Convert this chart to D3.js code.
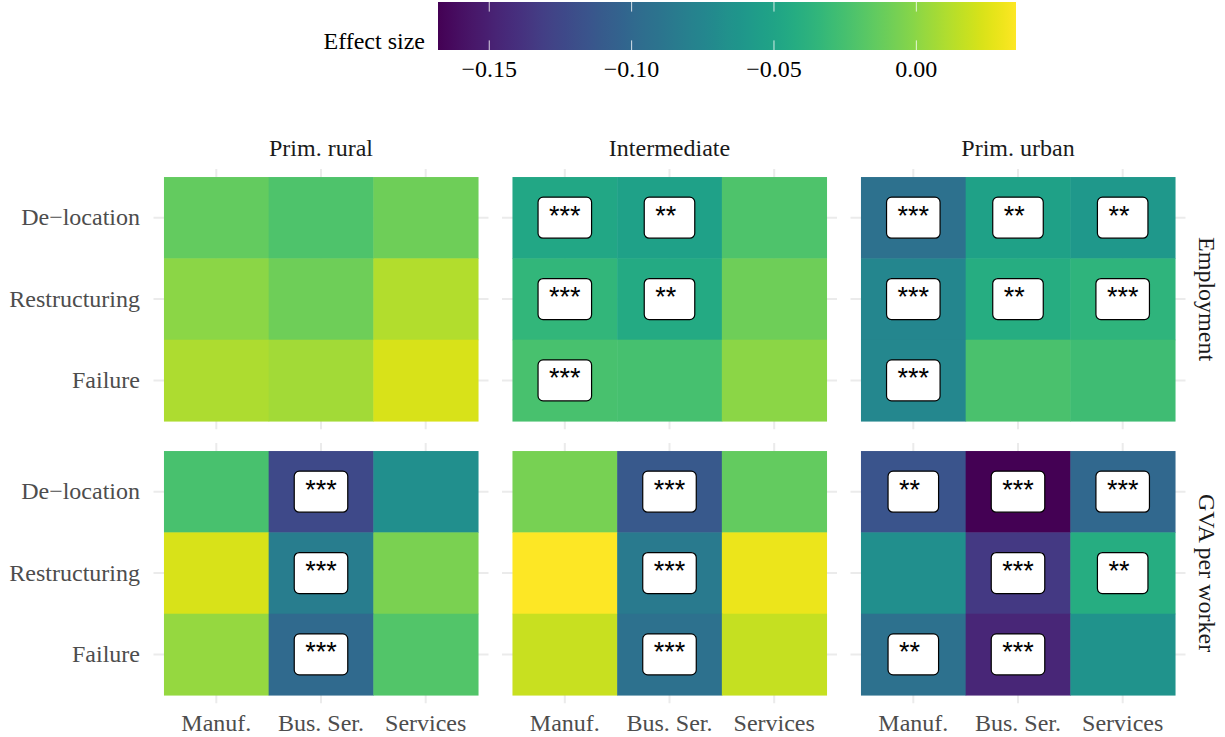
<!DOCTYPE html>
<html>
<head>
<meta charset="utf-8">
<script src="https://cdn.jsdelivr.net/npm/d3@7"></script>
<style>
  body { margin: 0; background: #fff; }
  svg { display: block; }
</style>
</head>
<body>
<script>
// Facets and categories
const areas = ["Prim. rural", "Intermediate", "Prim. urban"];
const outcomes = ["Employment", "GVA per worker"];
const sectors = ["Manuf.", "Bus. Ser.", "Services"];
const events = ["De\u2212location", "Restructuring", "Failure"];
const colourTicks = [-0.15, -0.10, -0.05, 0.00];

// Effect sizes, row-major: event (De-location, Restructuring, Failure) x sector
const empRural        = [-0.014, -0.022, -0.010,   0.000, -0.010,  0.012,   0.010,  0.007,  0.023];
const empIntermediate = [-0.047, -0.053, -0.022,  -0.034, -0.045, -0.010,  -0.024, -0.025,  0.000];
const empUrban        = [-0.093, -0.052, -0.060,  -0.075, -0.042, -0.036,  -0.074, -0.023, -0.028];
const gvaRural        = [-0.024, -0.123, -0.068,   0.023, -0.083, -0.006,   0.003, -0.099, -0.020];
const gvaIntermediate = [-0.007, -0.112, -0.014,   0.035, -0.085,  0.029,   0.018, -0.093,  0.017];
const gvaUrban        = [-0.115, -0.168, -0.100,  -0.068, -0.134, -0.042,  -0.093, -0.146, -0.064];

// Significance markers, same layout
const sigEmpRural        = ["", "", "",  "", "", "",  "", "", ""];
const sigEmpIntermediate = ["***", "**", "",  "***", "**", "",  "***", "", ""];
const sigEmpUrban        = ["***", "**", "**",  "***", "**", "***",  "***", "", ""];
const sigGvaRural        = ["", "***", "",  "", "***", "",  "", "***", ""];
const sigGvaIntermediate = ["", "***", "",  "", "***", "",  "", "***", ""];
const sigGvaUrban        = ["**", "***", "***",  "", "***", "**",  "**", "***", ""];

const panelValues = [
  [empRural, empIntermediate, empUrban],
  [gvaRural, gvaIntermediate, gvaUrban]
];
const panelStars = [
  [sigEmpRural, sigEmpIntermediate, sigEmpUrban],
  [sigGvaRural, sigGvaIntermediate, sigGvaUrban]
];

const W = 1225, H = 737;
const serif = "'Liberation Serif', 'Times New Roman', serif";
const sans = "'Liberation Sans', Arial, sans-serif";

const svg = d3.select("body").append("svg")
  .attr("width", W).attr("height", H);

// Panel geometry
const panelW = 335, panelH = 260.3;
const panelLeft = [153.5, 502, 850.5];
const panelTop = [168.9, 442.9];

const x = d3.scaleBand().domain(sectors).range([0, panelW]).paddingInner(0).paddingOuter(0.1);
const y = d3.scaleBand().domain(events).range([0, panelH]).paddingInner(0).paddingOuter(0.1);

const allValues = panelValues.flat(2);
const colour = d3.scaleSequential(d3.interpolateViridis).domain(d3.extent(allValues));

// ---- Colour bar legend ----
const barX = d3.scaleLinear().domain(colour.domain()).range([438, 1016]);
const barTop = 2, barH = 48;
const grad = svg.append("defs").append("linearGradient")
  .attr("id", "effectGrad").attr("x1", "0%").attr("x2", "100%");
d3.range(0, 1.0001, 0.02).forEach(t => {
  grad.append("stop").attr("offset", (t * 100) + "%").attr("stop-color", d3.interpolateViridis(t));
});
svg.append("rect")
  .attr("x", barX.range()[0]).attr("y", barTop)
  .attr("width", barX.range()[1] - barX.range()[0]).attr("height", barH)
  .attr("fill", "url(#effectGrad)");

const tickG = svg.append("g");
colourTicks.forEach(v => {
  const tx = barX(v);
  tickG.append("line").attr("x1", tx).attr("x2", tx).attr("y1", barTop).attr("y2", barTop + barH / 5)
    .attr("stroke", "#fff").attr("stroke-opacity", 0.8).attr("stroke-width", 1);
  tickG.append("line").attr("x1", tx).attr("x2", tx).attr("y1", barTop + barH - barH / 5).attr("y2", barTop + barH)
    .attr("stroke", "#fff").attr("stroke-opacity", 0.8).attr("stroke-width", 1);
});
const fmt = d3.format(".2f");
svg.append("g").selectAll("text").data(colourTicks).join("text")
  .attr("x", d => barX(d)).attr("y", 77)
  .attr("text-anchor", "middle")
  .attr("font-family", serif).attr("font-size", 24).attr("fill", "#000")
  .text(d => fmt(d));
svg.append("text")
  .attr("x", 425).attr("y", 49).attr("text-anchor", "end")
  .attr("font-family", serif).attr("font-size", 24).attr("fill", "#000")
  .text("Effect size");

// ---- Panels ----
outcomes.forEach((outcome, r) => {
  areas.forEach((area, c) => {
    const g = svg.append("g").attr("transform", `translate(${panelLeft[c]},${panelTop[r]})`);

    // grid lines
    g.selectAll(".gx").data(sectors).join("line")
      .attr("x1", d => x(d) + x.bandwidth() / 2).attr("x2", d => x(d) + x.bandwidth() / 2)
      .attr("y1", 0).attr("y2", panelH)
      .attr("stroke", "#ebebeb").attr("stroke-width", 2);
    g.selectAll(".gy").data(events).join("line")
      .attr("y1", d => y(d) + y.bandwidth() / 2).attr("y2", d => y(d) + y.bandwidth() / 2)
      .attr("x1", 0).attr("x2", panelW)
      .attr("stroke", "#ebebeb").attr("stroke-width", 2);

    const vals = panelValues[r][c];
    const stars = panelStars[r][c];
    const cells = [];
    events.forEach((ev, i) => sectors.forEach((sec, j) => {
      cells.push({ ev, sec, v: vals[i * 3 + j], s: stars[i * 3 + j] });
    }));

    g.selectAll("rect.tile").data(cells).join("rect")
      .attr("class", "tile")
      .attr("x", d => x(d.sec)).attr("y", d => y(d.ev))
      .attr("width", x.bandwidth() + 0.5).attr("height", y.bandwidth() + 0.5)
      .attr("fill", d => colour(d.v));

    // significance labels
    const fs = 27, pad = 11, boxH = 41;
    cells.filter(d => d.s).forEach(d => {
      const cx = x(d.sec) + x.bandwidth() / 2;
      const cy = y(d.ev) + y.bandwidth() / 2;
      const lg = g.append("g");
      const rect = lg.append("rect");
      const t = lg.append("text")
        .attr("font-family", sans).attr("font-size", fs).attr("fill", "#000")
        .style("white-space", "pre")
        .text(d.s.padEnd(3, " "));
      const tw = t.node().getComputedTextLength();
      const bw = tw + 2 * pad;
      rect.attr("x", cx - bw / 2).attr("y", cy - boxH / 2)
        .attr("width", bw).attr("height", boxH)
        .attr("rx", 5).attr("ry", 5)
        .attr("fill", "#fff").attr("stroke", "#000").attr("stroke-width", 1.2);
      t.attr("x", cx - bw / 2 + pad).attr("y", cy + 7);
    });

    // top strip
    if (r === 0) {
      svg.append("text")
        .attr("x", panelLeft[c] + panelW / 2).attr("y", 156)
        .attr("text-anchor", "middle")
        .attr("font-family", serif).attr("font-size", 24).attr("fill", "#1a1a1a")
        .text(area);
    }
    // right strip
    if (c === areas.length - 1) {
      const sx = 1199, sy = panelTop[r] + panelH / 2;
      svg.append("text")
        .attr("transform", `translate(${sx},${sy}) rotate(90)`)
        .attr("text-anchor", "middle")
        .attr("font-family", serif).attr("font-size", 24).attr("fill", "#1a1a1a")
        .text(outcome);
    }
    // left axis labels
    if (c === 0) {
      g.selectAll(".yl").data(events).join("text")
        .attr("x", 140 - panelLeft[0]).attr("y", d => y(d) + y.bandwidth() / 2)
        .attr("dy", "0.32em")
        .attr("text-anchor", "end")
        .attr("font-family", serif).attr("font-size", 24).attr("fill", "#4d4d4d")
        .text(d => d);
    }
    // bottom axis labels
    if (r === outcomes.length - 1) {
      g.selectAll(".xl").data(sectors).join("text")
        .attr("x", d => x(d) + x.bandwidth() / 2).attr("y", 731 - panelTop[r])
        .attr("text-anchor", "middle")
        .attr("font-family", serif).attr("font-size", 24).attr("fill", "#4d4d4d")
        .text(d => d);
    }
  });
});
</script>
</body>
</html>
